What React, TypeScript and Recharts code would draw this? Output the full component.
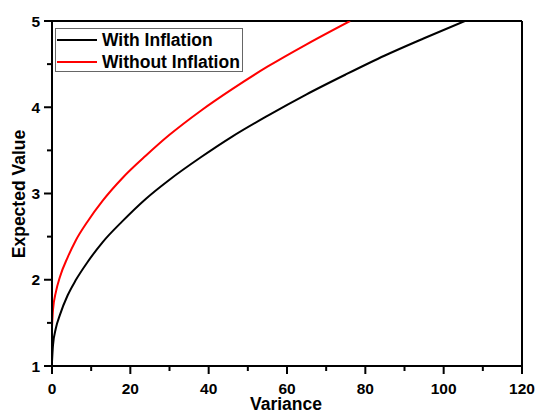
import React from 'react';
import { LineChart, Line, XAxis, YAxis, ReferenceLine } from 'recharts';

// values
const withInflationVariance = [0, 0.25, 1, 2, 4, 6, 9, 13, 18, 24, 30, 38, 46, 55, 65, 75, 85, 95, 105.4];
const withInflationValue = [1.05, 1.24, 1.44, 1.59, 1.82, 1.99, 2.2, 2.44, 2.68, 2.94, 3.16, 3.42, 3.66, 3.9, 4.15, 4.38, 4.6, 4.8, 5.0];

const withoutInflationVariance = [0, 0.25, 1, 2, 4, 6, 9, 13, 18, 24, 30, 38, 46, 55, 65, 76.1];
const withoutInflationValue = [1.45, 1.65, 1.86, 2.03, 2.26, 2.45, 2.67, 2.92, 3.18, 3.44, 3.68, 3.96, 4.21, 4.47, 4.73, 5.0];

const xTicks = [0, 10, 20, 30, 40, 50, 60, 70, 80, 90, 100, 110, 120];
const yTicks = [1, 1.5, 2, 2.5, 3, 3.5, 4, 4.5, 5];

const seriesNames = ['With Inflation', 'Without Inflation'];
const seriesColors = ['#000000', '#ff0000'];

const withData = withInflationVariance.map((v, i) => ({ variance: v, value: withInflationValue[i] }));
const withoutData = withoutInflationVariance.map((v, i) => ({ variance: v, value: withoutInflationValue[i] }));

const FONT = '"Liberation Sans", Arial, sans-serif';

const XTick = (props: any) => {
  const { x, y, payload } = props;
  const major = payload.value % 20 === 0;
  return (
    <g>
      <line x1={x} y1={y} x2={x} y2={y + (major ? 8 : 5)} stroke="#000" strokeWidth={2} />
      {major && (
        <text x={x} y={y + 22} textAnchor="middle" dominantBaseline="central" fontFamily={FONT} fontWeight="bold" fontSize={15.5} fill="#000">
          {payload.value}
        </text>
      )}
    </g>
  );
};

const YTick = (props: any) => {
  const { x, y, payload } = props;
  const major = Number.isInteger(payload.value);
  return (
    <g>
      <line x1={x} y1={y} x2={x - (major ? 8 : 5)} y2={y} stroke="#000" strokeWidth={2} />
      {major && (
        <text x={x - 12} y={y} textAnchor="end" dominantBaseline="central" fontFamily={FONT} fontWeight="bold" fontSize={15.5} fill="#000">
          {payload.value}
        </text>
      )}
    </g>
  );
};

const App = () => {
  return (
    <div style={{ position: 'absolute', left: 0, top: 0, width: 538, height: 413, background: '#fff' }}>
      <LineChart width={538} height={413} margin={{ top: 21, right: 16, bottom: 0, left: 0 }}>
        <XAxis
          dataKey="variance"
          type="number"
          domain={[0, 120]}
          ticks={xTicks}
          interval={0}
          height={47}
          tickLine={false}
          tickSize={0}
          tickMargin={0}
          tick={<XTick />}
          axisLine={{ stroke: '#000', strokeWidth: 2 }}
          allowDataOverflow
          label={() => (
            <text x={286} y={404} textAnchor="middle" dominantBaseline="central" fontFamily={FONT} fontWeight="bold" fontSize={17.5} fill="#000">
              Variance
            </text>
          )}
        />
        <YAxis
          dataKey="value"
          type="number"
          domain={[1, 5]}
          ticks={yTicks}
          interval={0}
          width={52}
          tickLine={false}
          tickSize={0}
          tickMargin={0}
          tick={<YTick />}
          axisLine={{ stroke: '#000', strokeWidth: 2 }}
          allowDataOverflow
          label={() => (
            <text x={19} y={194} transform="rotate(-90 19 194)" textAnchor="middle" dominantBaseline="central" fontFamily={FONT} fontWeight="bold" fontSize={17.5} fill="#000">
              Expected Value
            </text>
          )}
        />
        <ReferenceLine y={5} stroke="#000" strokeWidth={2} ifOverflow="extendDomain" />
        <ReferenceLine x={120} stroke="#000" strokeWidth={2} ifOverflow="extendDomain" />
        <Line
          data={withData}
          dataKey="value"
          name={seriesNames[0]}
          type="monotone"
          stroke={seriesColors[0]}
          strokeWidth={2}
          dot={false}
          isAnimationActive={false}
        />
        <Line
          data={withoutData}
          dataKey="value"
          name={seriesNames[1]}
          type="monotone"
          stroke={seriesColors[1]}
          strokeWidth={2}
          dot={false}
          isAnimationActive={false}
        />
      </LineChart>
      <div
        style={{
          position: 'absolute',
          left: 55,
          top: 28,
          width: 188,
          height: 44,
          border: '1px solid #666',
          background: '#fff',
          fontFamily: FONT,
          fontWeight: 'bold',
          fontSize: 17.5,
          boxSizing: 'border-box',
        }}
      >
        {seriesNames.map((name, i) => (
          <div key={name} style={{ position: 'absolute', left: 1, top: i === 0 ? 1 : 23, height: 20, display: 'flex', alignItems: 'center', whiteSpace: 'nowrap' }}>
            <span style={{ display: 'inline-block', width: 40, height: 2.5, background: seriesColors[i], marginRight: 5 }} />
            <span>{name}</span>
          </div>
        ))}
      </div>
    </div>
  );
};

export default App;
